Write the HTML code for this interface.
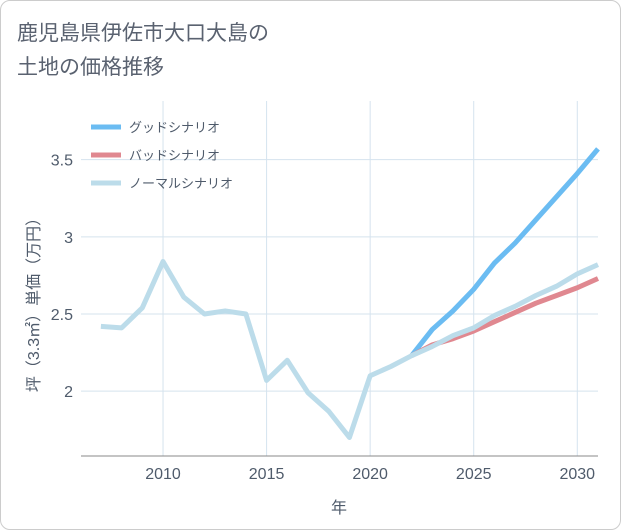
<!DOCTYPE html>
<html><head><meta charset="utf-8"><style>
body{margin:0;background:#fff;font-family:"Liberation Sans","Noto Sans CJK JP",sans-serif}
#c{position:relative;width:619px;height:528px;border:1px solid #ccc;border-radius:10px;overflow:hidden}
#t{position:absolute;left:16px;top:16px;font-size:21px;line-height:34px;color:#5a6270}
svg{position:absolute;left:0;top:0}
</style></head><body>
<div id="c">
<div id="t">鹿児島県伊佐市大口大島の<br>土地の価格推移</div>
<svg id="s" width="621" height="530"></svg>
</div>
<script>
const years=[2007,2008,2009,2010,2011,2012,2013,2014,2015,2016,2017,2018,2019,2020,2021,2022,2023,2024,2025,2026,2027,2028,2029,2030,2031];
const normal=[2.42,2.41,2.54,2.84,2.61,2.50,2.52,2.50,2.07,2.20,1.99,1.87,1.70,2.10,2.16,2.23,2.29,2.36,2.41,2.49,2.55,2.62,2.68,2.76,2.82];
const fYears=[2022,2023,2024,2025,2026,2027,2028,2029,2030,2031];
const good=[2.23,2.40,2.52,2.66,2.83,2.96,3.11,3.26,3.41,3.57];
const bad=[2.23,2.30,2.34,2.39,2.45,2.51,2.57,2.62,2.67,2.73];
const xTicks=[2010,2015,2020,2025,2030];
const yTicks=[2,2.5,3,3.5];
const yLabels=["2","2.5","3","3.5"];
const L=80,R=597,T=100,B=455,x0=2006.04,x1=2031,y0=1.58,y1=3.88;
const X=v=>L+(v-x0)/(x1-x0)*(R-L), Y=v=>B-(v-y0)/(y1-y0)*(B-T);
const s=document.getElementById('s');const NS='http://www.w3.org/2000/svg';
const TC='#4f5b6b';
function el(t,a,p){const e=document.createElementNS(NS,t);for(const k in a)e.setAttribute(k,a[k]);(p||s).appendChild(e);return e;}
xTicks.forEach(v=>{const l=el('line',{x1:X(v),x2:X(v),y1:T,y2:B,stroke:'#d5e3ee'});

const t=el('text',{x:X(v),y:478,'text-anchor':'middle','font-size':16,fill:TC});t.textContent=v;
});
yTicks.forEach((v,i)=>{const l=el('line',{x1:L,x2:R,y1:Y(v),y2:Y(v),stroke:'#d5e3ee'});

const t=el('text',{x:72,y:Y(v)+6,'text-anchor':'end','font-size':16,fill:TC});t.textContent=yLabels[i];
});
const ax=el('line',{x1:L,x2:R,y1:B,y2:B,stroke:'#888'});
const xt=el('text',{x:338,y:512,'text-anchor':'middle','font-size':16,fill:TC});xt.textContent='年';

const yt=el('text',{x:0,y:0,'text-anchor':'middle','font-size':16,fill:TC,transform:'translate(38,300) rotate(-90)'});yt.textContent='坪（3.3㎡）単価（万円）';

function line(xs,ys,c,n){const p=el('polyline',{points:xs.map((v,i)=>X(v)+','+Y(ys[i])).join(' '),fill:'none',stroke:c,'stroke-width':5,'stroke-linejoin':'round'});
}
line(fYears,good,'#6bbcf2','good-scenario-line');
line(fYears,bad,'#e08890','bad-scenario-line');
line(years,normal,'#bcdcea','normal-scenario-line');
[['グッドシナリオ','#6bbcf2'],['バッドシナリオ','#e08890'],['ノーマルシナリオ','#bcdcea']].forEach((d,i)=>{
const g=el('g',{});
el('line',{x1:90,x2:120,y1:126+i*28,y2:126+i*28,stroke:d[1],'stroke-width':5},g);
const t=el('text',{x:128,y:131+i*28,'font-size':13,fill:TC},g);t.textContent=d[0];});
</script></body></html>
